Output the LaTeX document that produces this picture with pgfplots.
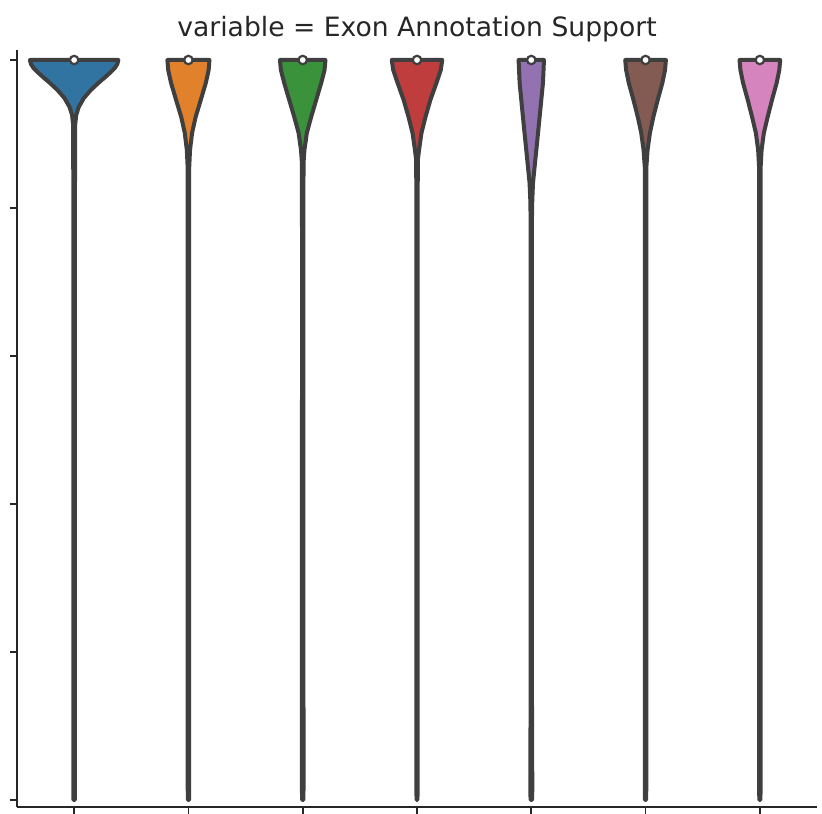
\documentclass[border=0pt]{standalone}
\usepackage{fontspec}
\setmainfont{DejaVu Sans}
\usepackage{pgfplots}
\pgfplotsset{compat=1.18}
\definecolor{vblue}{HTML}{3274A1}
\definecolor{vorange}{HTML}{E1812C}
\definecolor{vgreen}{HTML}{3A923A}
\definecolor{vred}{HTML}{C03D3E}
\definecolor{vpurple}{HTML}{9372B2}
\definecolor{vbrown}{HTML}{845B53}
\definecolor{vpink}{HTML}{D684BD}
\definecolor{vgray}{HTML}{3F3F3F}
\definecolor{spine}{HTML}{262626}
\begin{document}
\begin{tikzpicture}
\begin{axis}[
  scale only axis, width=800bp, height=757bp,
  xmin=-0.5, xmax=6.5, ymin=-0.0473, ymax=5.0676,
  axis lines*=left,
  xtick={0,1,2,3,4,5,6}, ytick={0,1,2,3,4,5},
  xticklabels={}, yticklabels={},
  tick align=outside, major tick length=7bp,
  tick style={line width=1.6bp, color=spine},
  axis line style={line width=1.6bp, color=spine},
  clip=false,
  title={variable = Exon Annotation Support},
  title style={at={(0.5,1)}, anchor=base, yshift=8bp, font=\fontsize{26.7}{30}\selectfont, text=spine},
  violin/.style={draw=vgray, line width=4bp, line join=round, line cap=round},
]
% blue
\addplot[violin, fill=vblue] coordinates {
(-0.387,5) (-0.378,4.973) (-0.356,4.946) (-0.321,4.919) (-0.273,4.885) (-0.212,4.845) (-0.146,4.797) (-0.085,4.743) (-0.040,4.682) (-0.018,4.628) (-0.009,4.561) (-0.007,4.054) (-0.007,0.068) (-0.006,0)
(0.006,0) (0.007,0.068) (0.007,4.054) (0.009,4.561) (0.018,4.628) (0.040,4.682) (0.085,4.743) (0.146,4.797) (0.212,4.845) (0.273,4.885) (0.321,4.919) (0.356,4.946) (0.378,4.973) (0.387,5)
} -- cycle;
% orange
\addplot[violin, fill=vorange] coordinates {
(0.816,5) (0.823,4.932) (0.848,4.845) (0.892,4.730) (0.937,4.615) (0.968,4.507) (0.986,4.392) (0.993,4.277) (0.994,3.716) (0.994,0.068) (0.995,0)
(1.005,0) (1.006,0.068) (1.006,3.716) (1.007,4.277) (1.014,4.392) (1.032,4.507) (1.063,4.615) (1.108,4.730) (1.152,4.845) (1.177,4.932) (1.184,5)
} -- cycle;
% green
\addplot[violin, fill=vgreen] coordinates {
(1.801,5) (1.809,4.932) (1.838,4.845) (1.882,4.730) (1.926,4.615) (1.964,4.507) (1.985,4.392) (1.993,4.304) (1.994,3.716) (1.993,0.068) (1.995,0)
(2.005,0) (2.007,0.068) (2.006,3.716) (2.007,4.304) (2.015,4.392) (2.036,4.507) (2.074,4.615) (2.118,4.730) (2.162,4.845) (2.191,4.932) (2.199,5)
} -- cycle;
% red
\addplot[violin, fill=vred] coordinates {
(2.779,5) (2.792,4.932) (2.830,4.845) (2.883,4.730) (2.926,4.615) (2.961,4.507) (2.982,4.392) (2.993,4.324) (2.995,3.716) (2.995,0.068) (2.996,0)
(3.004,0) (3.005,0.068) (3.005,3.716) (3.007,4.324) (3.018,4.392) (3.039,4.507) (3.074,4.615) (3.117,4.730) (3.170,4.845) (3.208,4.932) (3.221,5)
} -- cycle;
% purple
\addplot[violin, fill=vpurple] coordinates {
(3.889,5) (3.898,4.845) (3.9125,4.730) (3.927,4.615) (3.941,4.507) (3.956,4.392) (3.971,4.277) (3.985,4.169) (3.9913,4.054) (3.994,3.939) (3.995,3.716) (3.994,0.676) (3.991,0.068) (3.994,0)
(4.006,0) (4.009,0.068) (4.006,0.676) (4.005,3.716) (4.006,3.939) (4.0087,4.054) (4.015,4.169) (4.029,4.277) (4.044,4.392) (4.059,4.507) (4.073,4.615) (4.0875,4.730) (4.102,4.845) (4.111,5)
} -- cycle;
% brown
\addplot[violin, fill=vbrown] coordinates {
(4.822,5) (4.830,4.932) (4.853,4.845) (4.894,4.730) (4.932,4.615) (4.962,4.507) (4.9825,4.392) (4.993,4.277) (4.994,3.716) (4.994,0.068) (4.995,0)
(5.005,0) (5.006,0.068) (5.006,3.716) (5.007,4.277) (5.0175,4.392) (5.038,4.507) (5.068,4.615) (5.106,4.730) (5.147,4.845) (5.170,4.932) (5.178,5)
} -- cycle;
% pink
\addplot[violin, fill=vpink] coordinates {
(5.822,5) (5.830,4.932) (5.853,4.845) (5.894,4.730) (5.932,4.615) (5.965,4.507) (5.985,4.392) (5.993,4.277) (5.994,3.716) (5.994,0.068) (5.995,0)
(6.005,0) (6.006,0.068) (6.006,3.716) (6.007,4.277) (6.015,4.392) (6.035,4.507) (6.068,4.615) (6.106,4.730) (6.147,4.845) (6.170,4.932) (6.178,5)
} -- cycle;
% medians
\addplot[only marks, mark=*, mark size=4.2bp, mark options={fill=white, draw=vgray, line width=2.2bp}] coordinates {
(0,5) (1,5) (2,5) (3,5) (4,5) (5,5) (6,5)
};
\end{axis}
\pgfresetboundingbox
\useasboundingbox (-17bp,-7bp) rectangle (805bp,807bp);
\end{tikzpicture}
\end{document}
